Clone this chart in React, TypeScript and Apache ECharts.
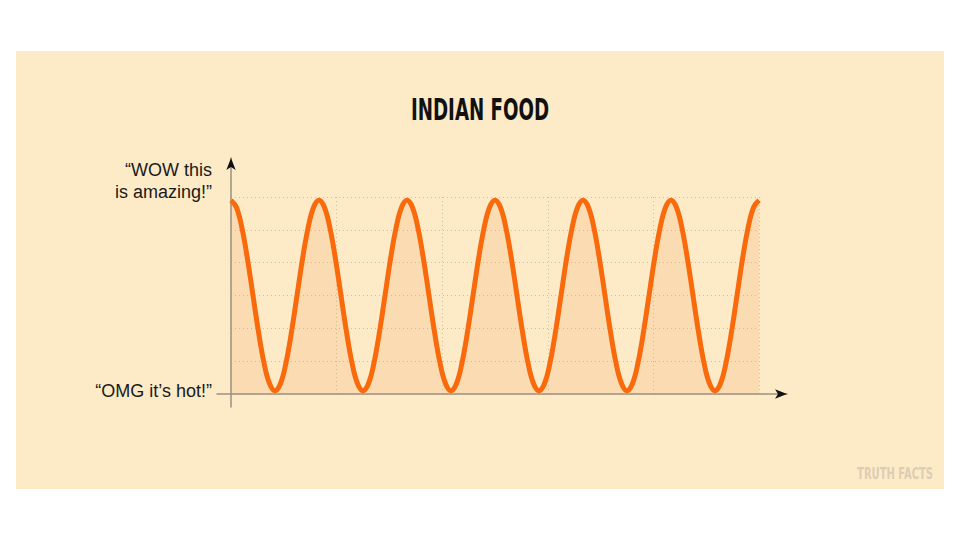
import React, { useEffect, useRef } from "react";
import * as echarts from "echarts";

const TITLE = "INDIAN FOOD";
const TOP_LABEL = "\u201CWOW this\nis amazing!\u201D";
const BOTTOM_LABEL = "\u201COMG it\u2019s hot!\u201D";
const WATERMARK = "TRUTH FACTS";

const sampleX = [
  0, 2.5, 5, 7.5, 10, 12.5, 15, 17.5, 20, 22.5, 25, 27.5, 30, 32.5, 35, 37.5,
  40, 42.5, 45, 47.5, 50, 52.5, 55, 57.5, 60, 62.5, 65, 67.5, 70, 72.5, 75, 77.5,
  80, 82.5, 85, 87.5, 90, 92.5, 95, 97.5, 100, 102.5, 105, 107.5, 110, 112.5, 115, 117.5,
  120, 122.5, 125, 127.5, 130, 132.5, 135, 137.5, 140, 142.5, 145, 147.5, 150, 152.5, 155, 157.5,
  160, 162.5, 165, 167.5, 170, 172.5, 175, 177.5, 180, 182.5, 185, 187.5, 190, 192.5, 195, 197.5,
  200, 202.5, 205, 207.5, 210, 212.5, 215, 217.5, 220, 222.5, 225, 227.5, 230, 232.5, 235, 237.5,
  240,
];
const sampleY = [
  5.9, 5.68, 5.05, 4.11, 3.0, 1.89, 0.95, 0.32, 0.1, 0.32, 0.95, 1.89, 3.0, 4.11, 5.05, 5.68,
  5.9, 5.68, 5.05, 4.11, 3.0, 1.89, 0.95, 0.32, 0.1, 0.32, 0.95, 1.89, 3.0, 4.11, 5.05, 5.68,
  5.9, 5.68, 5.05, 4.11, 3.0, 1.89, 0.95, 0.32, 0.1, 0.32, 0.95, 1.89, 3.0, 4.11, 5.05, 5.68,
  5.9, 5.68, 5.05, 4.11, 3.0, 1.89, 0.95, 0.32, 0.1, 0.32, 0.95, 1.89, 3.0, 4.11, 5.05, 5.68,
  5.9, 5.68, 5.05, 4.11, 3.0, 1.89, 0.95, 0.32, 0.1, 0.32, 0.95, 1.89, 3.0, 4.11, 5.05, 5.68,
  5.9, 5.68, 5.05, 4.11, 3.0, 1.89, 0.95, 0.32, 0.1, 0.32, 0.95, 1.89, 3.0, 4.11, 5.05, 5.68,
  5.9,
];

const X_MIN = 0;
const X_MAX = 240;
const X_STEP = 48;
const Y_MIN = 0;
const Y_MAX = 6;
const Y_STEP = 1;

const CONDENSED = "'Liberation Sans Narrow', 'DejaVu Sans Condensed', 'Liberation Sans', sans-serif";
const SANS = "'Liberation Sans', Arial, Helvetica, sans-serif";

function fitScale(text: string, font: string, target: number): number {
  const c = document.createElement("canvas").getContext("2d");
  if (!c) return 1;
  c.font = font;
  const w = c.measureText(text).width;
  return w > 0 ? target / w : 1;
}

export default function App() {
  const ref = useRef<HTMLDivElement>(null);

  useEffect(() => {
    if (!ref.current) return;
    const chart = echarts.init(ref.current, undefined, { renderer: "svg" });

    const titleScale = fitScale(TITLE, `bold 31px ${CONDENSED}`, 138);
    const wmScale = fitScale(WATERMARK, `bold 16px ${CONDENSED}`, 76);

    const hiddenAxis = {
      axisLabel: { show: false },
      axisTick: { show: false },
      splitLine: { show: false },
    };

    chart.setOption({
      animation: false,
      backgroundColor: "#ffffff",
      graphic: [
        {
          type: "rect",
          z: -10,
          shape: { x: 16, y: 51, width: 928, height: 438 },
          style: { fill: "#FDEBC8" },
          silent: true,
        },
        {
          type: "text",
          x: 480,
          y: 109,
          scaleX: titleScale,
          style: {
            text: TITLE,
            fontSize: 31,
            fontWeight: "bold",
            fontFamily: CONDENSED,
            fill: "#111111",
            textAlign: "center",
            textVerticalAlign: "middle",
          },
        },
        {
          type: "text",
          x: 212,
          y: 181,
          style: {
            text: TOP_LABEL,
            fontSize: 18,
            lineHeight: 22,
            fontFamily: SANS,
            fill: "#1a1a1a",
            textAlign: "right",
            textVerticalAlign: "middle",
          },
        },
        {
          type: "text",
          x: 212,
          y: 391,
          style: {
            text: BOTTOM_LABEL,
            fontSize: 18,
            fontFamily: SANS,
            fill: "#1a1a1a",
            textAlign: "right",
            textVerticalAlign: "middle",
          },
        },
        {
          type: "text",
          x: 933,
          y: 473,
          scaleX: wmScale,
          style: {
            text: WATERMARK,
            fontSize: 16,
            fontWeight: "bold",
            fontFamily: CONDENSED,
            fill: "#DCCDB3",
            textAlign: "right",
            textVerticalAlign: "middle",
          },
        },
      ],
      grid: [
        { left: 231, top: 197, width: 528, height: 197 },
        { left: 217, top: 158, width: 570, height: 249 },
        { left: 217, top: 158, width: 570, height: 249 },
      ],
      xAxis: [
        {
          type: "value",
          gridIndex: 0,
          min: X_MIN,
          max: X_MAX,
          interval: X_STEP,
          axisLine: { show: false },
          axisTick: { show: false },
          axisLabel: { show: false },
          splitLine: {
            show: true,
            lineStyle: { color: "#CFBFA6", width: 1, type: [1, 3] },
          },
        },
        {
          type: "value",
          gridIndex: 1,
          min: -14,
          max: 556,
          ...hiddenAxis,
          axisLine: { show: true, onZero: true, lineStyle: { color: "#9A9080", width: 1.5 } },
        },
        {
          type: "value",
          gridIndex: 2,
          min: -14,
          max: 556,
          ...hiddenAxis,
          axisLine: {
            show: true,
            onZero: true,
            symbol: ["none", "arrow"],
            symbolSize: [7, 12],
            lineStyle: { color: "#111111", width: 0 },
          },
        },
      ],
      yAxis: [
        {
          type: "value",
          gridIndex: 0,
          min: Y_MIN,
          max: Y_MAX,
          interval: Y_STEP,
          axisLine: { show: false },
          axisTick: { show: false },
          axisLabel: { show: false },
          splitLine: {
            show: true,
            lineStyle: { color: "#CFBFA6", width: 1, type: [1, 3] },
          },
        },
        {
          type: "value",
          gridIndex: 1,
          min: -13,
          max: 236,
          ...hiddenAxis,
          axisLine: { show: true, onZero: true, lineStyle: { color: "#9A9080", width: 1.5 } },
        },
        {
          type: "value",
          gridIndex: 2,
          min: -13,
          max: 236,
          ...hiddenAxis,
          axisLine: {
            show: true,
            onZero: true,
            symbol: ["none", "arrow"],
            symbolSize: [7, 12],
            lineStyle: { color: "#111111", width: 0 },
          },
        },
      ],
      series: [
        {
          type: "line",
          xAxisIndex: 0,
          yAxisIndex: 0,
          data: sampleX.map((x, i) => [x, sampleY[i]]),
          smooth: 0.4,
          showSymbol: false,
          lineStyle: { color: "#F86A0C", width: 5 },
          areaStyle: { color: "rgba(240,130,60,0.22)" },
          silent: true,
        },
      ],
    });

    return () => chart.dispose();
  }, []);

  return (
    <div
      ref={ref}
      style={{ position: "fixed", left: 0, top: 0, width: 960, height: 540 }}
    />
  );
}
